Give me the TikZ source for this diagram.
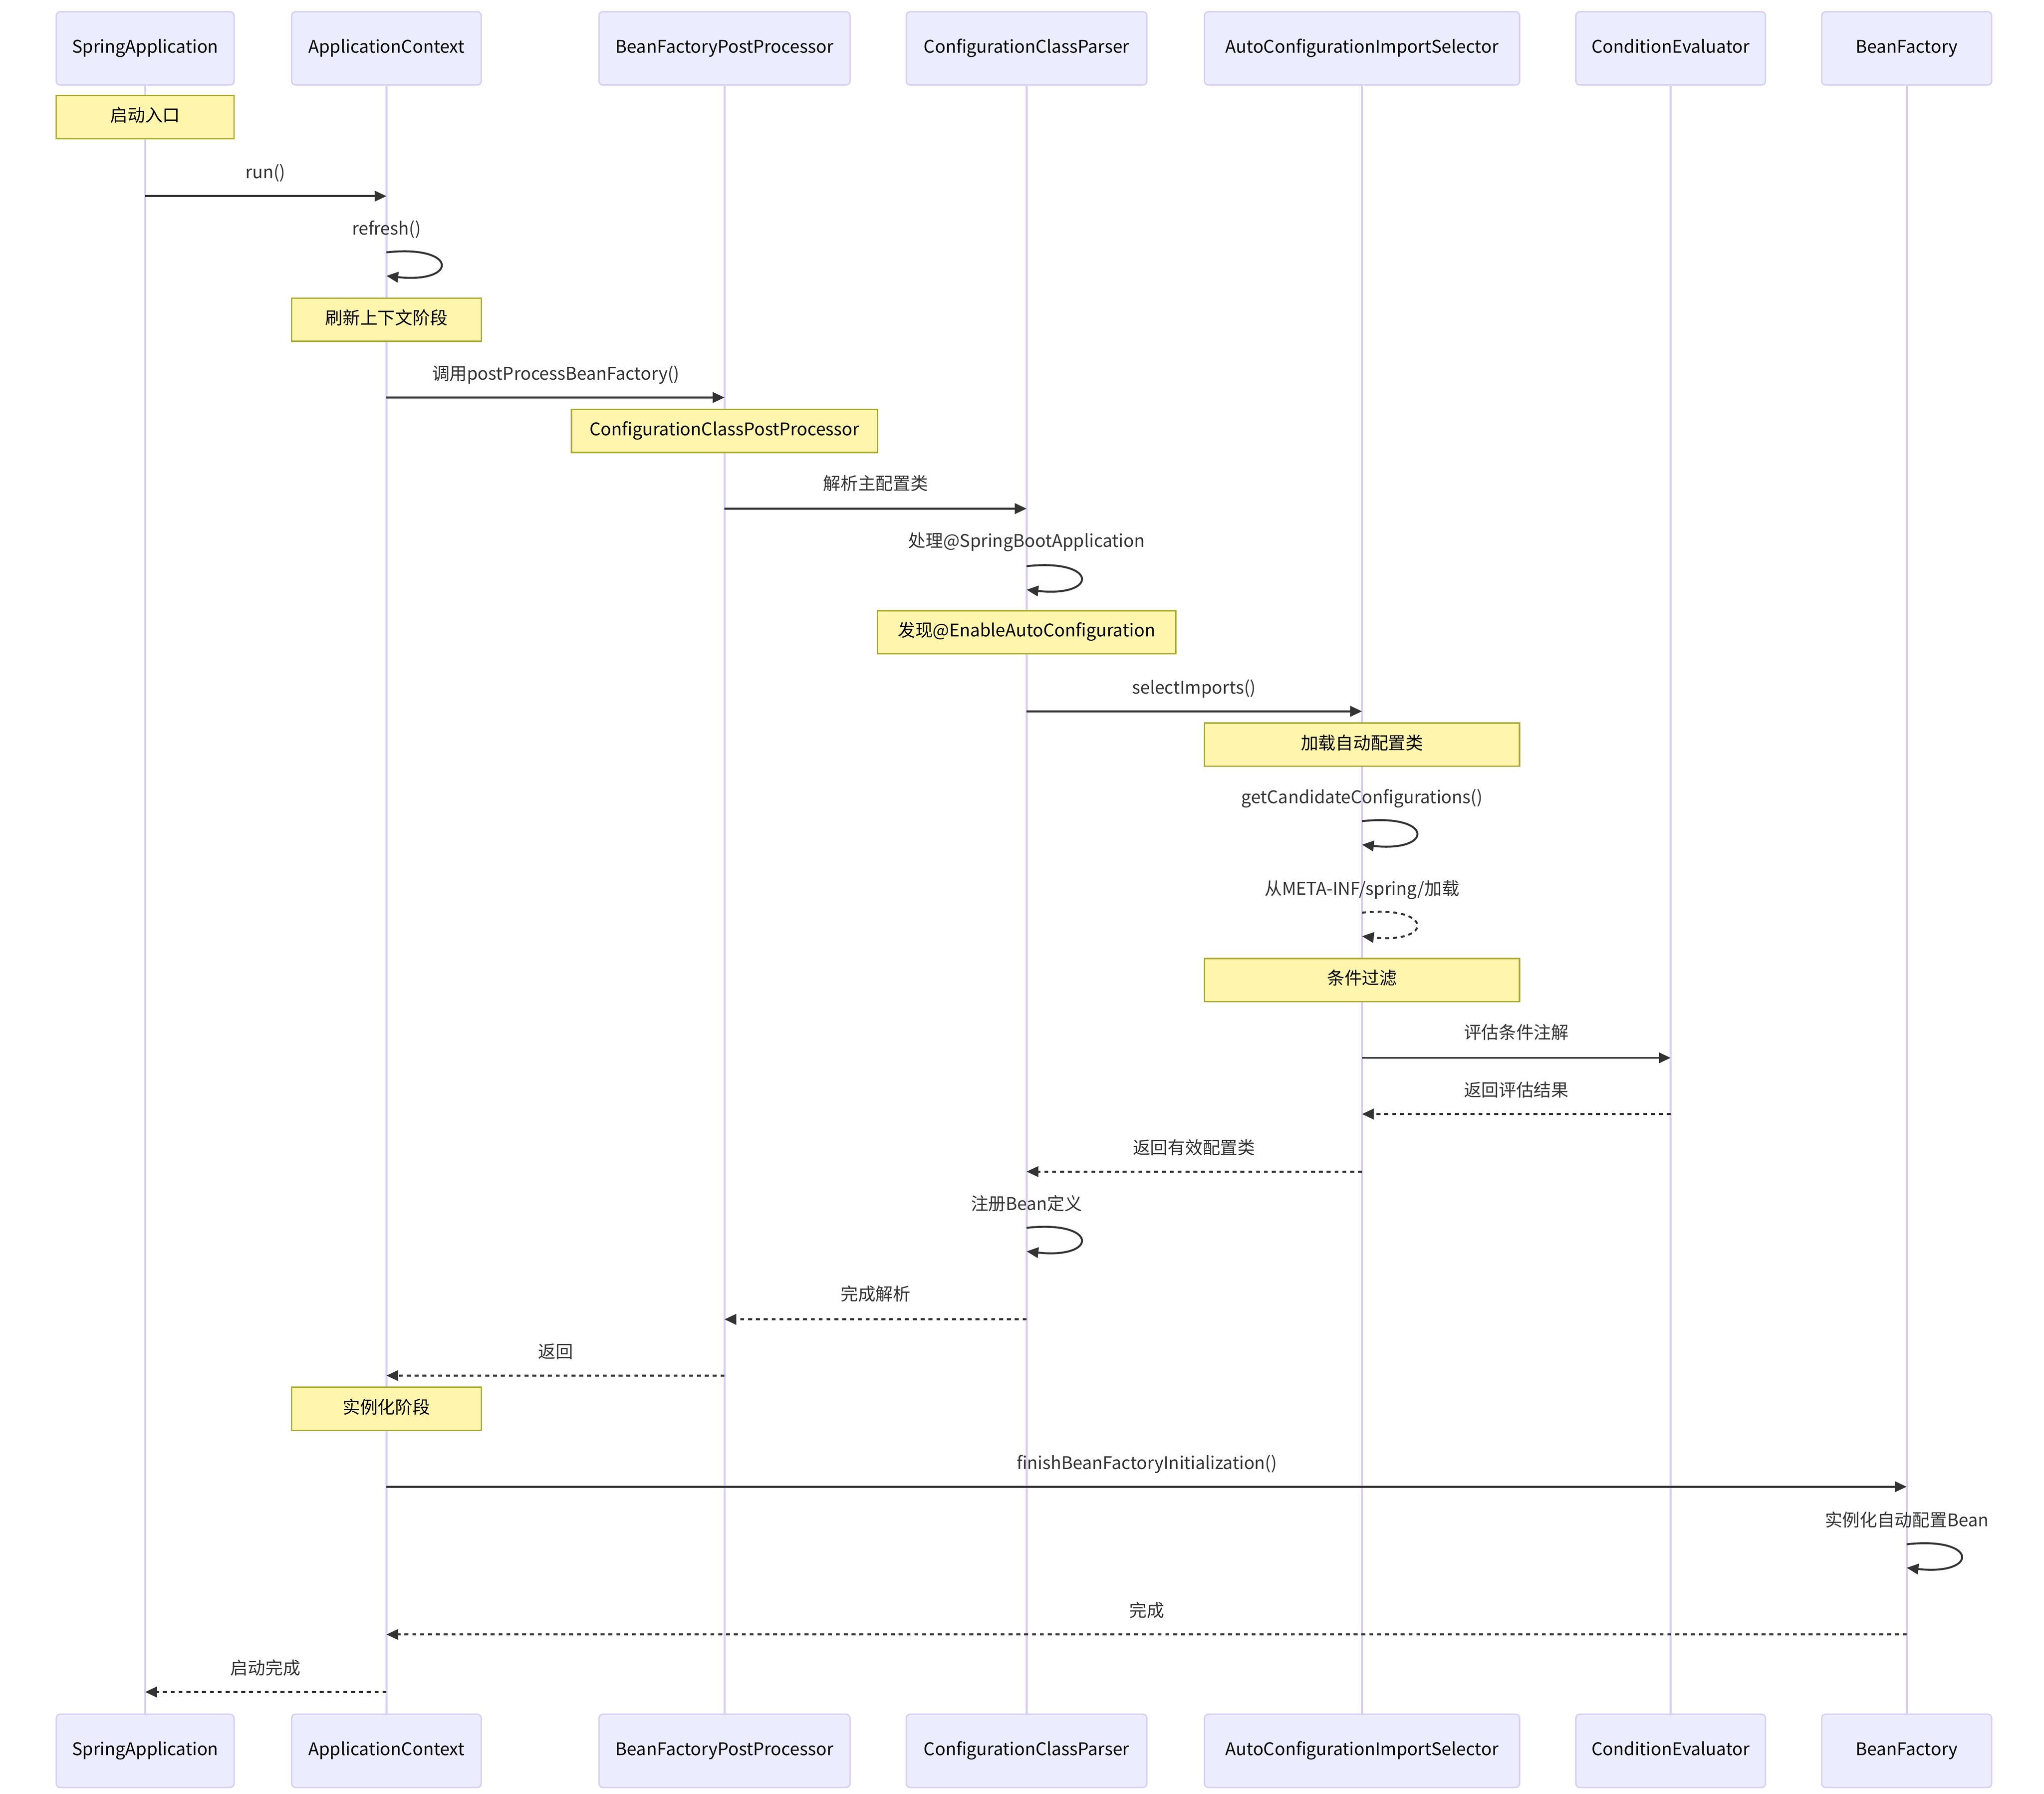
\documentclass[tikz,border=0pt]{standalone}
\usepackage{fontspec}
\setmainfont{Noto Sans CJK SC}
\usetikzlibrary{arrows.meta}

\definecolor{actorfill}{HTML}{ECECFF}
\definecolor{actorline}{HTML}{D8CEF3}
\definecolor{notefill}{HTML}{FFF5AD}
\definecolor{noteline}{HTML}{AAAA33}
\definecolor{msgcol}{HTML}{333333}

\tikzset{every picture/.style={line width=0.85pt}}
\tikzset{
    actor/.style={draw=actorline, fill=actorfill, rounded corners=0.06cm, minimum height=1.12cm,
        inner sep=0pt, line width=0.6pt, text height=0.2cm, text depth=0.06cm,
        font=\fontsize{7.6}{10}\selectfont},
    note/.style={draw=noteline, fill=notefill, minimum height=0.66cm, inner sep=0pt,
        line width=0.6pt, text height=0.2cm, text depth=0.06cm, font=\fontsize{7.6}{10}\selectfont},
    life/.style={draw=actorline, line width=0.85pt},
    msg/.style={draw=msgcol, -{Triangle[length=0.18cm,width=0.16cm]}},
    ret/.style={msg, dash pattern=on 0.06cm off 0.06cm},
    lbl/.style={text=msgcol, inner sep=0pt, text height=0.2cm, text depth=0.06cm,
        font=\fontsize{7.6}{10}\selectfont}
}

\begin{document}
\begin{tikzpicture}[x=0.02cm, y=-0.02cm]
        \useasboundingbox (0,0) rectangle (1563,1372);
        % participants
        \node[actor, minimum width=2.72cm] (sa) at (111,37) {SpringApplication};
        \node[actor, minimum width=2.90cm] (ac) at (295.5,37) {ApplicationContext};
        \node[actor, minimum width=3.84cm] (bfpp) at (554,37) {BeanFactoryPostProcessor};
        \node[actor, minimum width=3.68cm] (ccp) at (785,37) {ConfigurationClassParser};
        \node[actor, minimum width=4.82cm] (acis) at (1041.5,37) {AutoConfigurationImportSelector};
        \node[actor, minimum width=2.90cm] (ce) at (1277.5,37) {ConditionEvaluator};
        \node[actor, minimum width=2.60cm] (bf) at (1458,37) {BeanFactory};
        \node[actor, minimum width=2.72cm] (sab) at (111,1339) {SpringApplication};
        \node[actor, minimum width=2.90cm] (acb) at (295.5,1339) {ApplicationContext};
        \node[actor, minimum width=3.84cm] (bfppb) at (554,1339) {BeanFactoryPostProcessor};
        \node[actor, minimum width=3.68cm] (ccpb) at (785,1339) {ConfigurationClassParser};
        \node[actor, minimum width=4.82cm] (acisb) at (1041.5,1339) {AutoConfigurationImportSelector};
        \node[actor, minimum width=2.90cm] (ceb) at (1277.5,1339) {ConditionEvaluator};
        \node[actor, minimum width=2.60cm] (bfb) at (1458,1339) {BeanFactory};
        \foreach \a in {sa,ac,bfpp,ccp,acis,ce,bf}
            \draw[life] (\a.south) -- (\a b.north);

        % notes
        \node[note, minimum width=2.72cm] (n1) at (111,89.5) {启动入口};
        \node[note, minimum width=2.90cm] (n2) at (295.5,244.5) {刷新上下文阶段};
        \node[note, minimum width=4.68cm] (n3) at (554,329.5) {ConfigurationClassPostProcessor};
        \node[note, minimum width=4.56cm] (n4) at (785,483.5) {发现@EnableAutoConfiguration};
        \node[note, minimum width=4.82cm] (n5) at (1041.5,569.5) {加载自动配置类};
        \node[note, minimum width=4.82cm] (n6) at (1041.5,749.5) {条件过滤};
        \node[note, minimum width=2.90cm] (n7) at (295.5,1077.5) {实例化阶段};

        % messages
        \draw[msg] (sa |- 0,150) -- (ac |- 0,150);
        \node[lbl] (m1) at (203,133) {run()};
        \node[lbl] (m2) at (295.5,176) {refresh()};
        \draw[msg] (ac |- 0,193) .. controls +(55,-6) and +(55,6) .. (ac |- 0,211);
        \draw[msg] (ac |- 0,304) -- (bfpp |- 0,304);
        \node[lbl] (m3) at (425,287) {调用postProcessBeanFactory()};
        \draw[msg] (bfpp |- 0,389) -- (ccp |- 0,389);
        \node[lbl] (m4) at (669.5,371) {解析主配置类};
        \node[lbl] (m5) at (785,415) {处理@SpringBootApplication};
        \draw[msg] (ccp |- 0,433) .. controls +(55,-6) and +(55,6) .. (ccp |- 0,451);
        \draw[msg] (ccp |- 0,544) -- (acis |- 0,544);
        \node[lbl] (m6) at (913,527) {selectImports()};
        \node[lbl] (m7) at (1041.5,611) {getCandidateConfigurations()};
        \draw[msg] (acis |- 0,628) .. controls +(55,-6) and +(55,6) .. (acis |- 0,646);
        \node[lbl] (m8) at (1041.5,681) {从META-INF/spring/加载};
        \draw[ret] (acis |- 0,698) .. controls +(55,-6) and +(55,6) .. (acis |- 0,716);
        \draw[msg] (acis |- 0,809) -- (ce |- 0,809);
        \node[lbl] (m9) at (1159.5,791) {评估条件注解};
        \draw[ret] (ce |- 0,852) -- (acis |- 0,852);
        \node[lbl] (m10) at (1159.5,835) {返回评估结果};
        \draw[ret] (acis |- 0,896) -- (ccp |- 0,896);
        \node[lbl] (m11) at (913,879) {返回有效配置类};
        \node[lbl] (m12) at (785,922) {注册Bean定义};
        \draw[msg] (ccp |- 0,939) .. controls +(55,-6) and +(55,6) .. (ccp |- 0,957);
        \draw[ret] (ccp |- 0,1009) -- (bfpp |- 0,1009);
        \node[lbl] (m13) at (669.5,991) {完成解析};
        \draw[ret] (bfpp |- 0,1052) -- (ac |- 0,1052);
        \node[lbl] (m14) at (425,1035) {返回};
        \draw[msg] (ac |- 0,1137) -- (bf |- 0,1137);
        \node[lbl] (m15) at (877,1120) {finishBeanFactoryInitialization()};
        \node[lbl] (m16) at (1458,1164) {实例化自动配置Bean};
        \draw[msg] (bf |- 0,1181) .. controls +(55,-6) and +(55,6) .. (bf |- 0,1199);
        \draw[ret] (bf |- 0,1250) -- (ac |- 0,1250);
        \node[lbl] (m17) at (877,1233) {完成};
        \draw[ret] (ac |- 0,1294) -- (sa |- 0,1294);
        \node[lbl] (m18) at (203,1277) {启动完成};
    \end{tikzpicture}
\end{document}
